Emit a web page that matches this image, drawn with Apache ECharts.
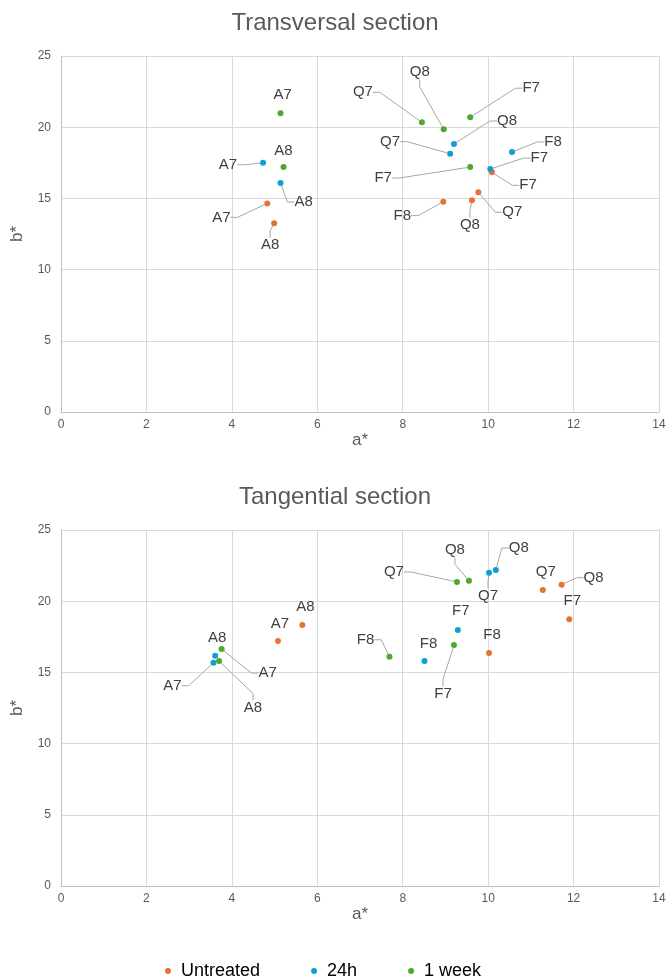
<!DOCTYPE html>
<html><head><meta charset="utf-8">
<script src="https://cdn.jsdelivr.net/npm/echarts@6/dist/echarts.min.js"></script>
<style>html,body{margin:0;padding:0;background:#fff}#c{width:670px;height:980px}</style>
</head><body><div id="c"></div>
<script>
// ---------- data ----------
const seriesNames = ['Untreated', '24h', '1 week'];
const xTicks = [0, 2, 4, 6, 8, 10, 12, 14];
const yTicks = [0, 5, 10, 15, 20, 25];

// Transversal section
const trUntreatedLbl = ['A7', 'A8', 'Q7', 'Q8', 'F7', 'F8'];
const trUntreatedA   = [4.83, 4.99, 9.77, 9.62, 10.09, 8.95];
const trUntreatedB   = [14.65, 13.25, 15.43, 14.87, 16.83, 14.77];

const tr24hLbl = ['A7', 'A8', 'Q7', 'Q8', 'F7', 'F8'];
const tr24hA   = [4.73, 5.14, 9.11, 9.20, 10.05, 10.56];
const tr24hB   = [17.50, 16.08, 18.14, 18.82, 17.06, 18.26];

const tr1wLbl = ['A7', 'A8', 'Q7', 'Q8', 'F7', 'F7'];
const tr1wA   = [5.14, 5.21, 8.45, 8.96, 9.58, 9.58];
const tr1wB   = [20.98, 17.20, 20.34, 19.85, 20.70, 17.20];

// Tangential section
const tgUntreatedLbl = ['A7', 'A8', 'Q7', 'Q8', 'F7', 'F8'];
const tgUntreatedA   = [5.08, 5.65, 11.28, 11.72, 11.90, 10.02];
const tgUntreatedB   = [17.20, 18.33, 20.79, 21.16, 18.73, 16.36];

const tg24hLbl = ['A7', 'A8', 'Q7', 'Q8', 'F7', 'F8'];
const tg24hA   = [3.57, 3.61, 10.02, 10.18, 9.29, 8.51];
const tg24hB   = [15.68, 16.17, 22.00, 22.19, 17.98, 15.80];

const tg1wLbl = ['A7', 'A8', 'Q7', 'Q8', 'F7', 'F8'];
const tg1wA   = [3.76, 3.70, 9.27, 9.55, 9.20, 7.69];
const tg1wB   = [16.64, 15.80, 21.35, 21.44, 16.92, 16.10];

// ---------- label placement (styling) ----------
// [dx, dy, showLeaderLine]
const trUntreatedOff = [[-46,14,1],[-4,22,1],[34,20,1],[-2,25,1],[36,13,1],[-41,14,1]];
const tr24hOff       = [[-35,2,1],[23,19,1],[-60,-12,1],[53,-23,1],[49,-11,1],[41,-10,1]];
const tr1wOff        = [[2,-18,0],[0,-16,0],[-59,-30,1],[-24,-57,1],[61,-29,1],[-87,11,1]];
const tgUntreatedOff = [[2,-17,0],[3,-18,0],[3,-18,0],[32,-7,1],[3,-18,0],[3,-18,0]];
const tg24hOff       = [[-41,23,1],[2,-18,0],[-1,23,1],[23,-22,1],[3,-19,0],[4,-17,0]];
const tg1wOff        = [[46,24,1],[34,47,1],[-63,-10,1],[-14,-31,1],[-11,49,1],[-24,-17,1]];

const colors = ['#E97132', '#0F9ED5', '#4EA72E'];
const textColor = '#595959';
const font = 'Liberation Sans, Arial, sans-serif';

const seriesDefs = [
  {grid: 0, lbl: trUntreatedLbl, a: trUntreatedA, b: trUntreatedB, off: trUntreatedOff, s: 0},
  {grid: 0, lbl: tr24hLbl, a: tr24hA, b: tr24hB, off: tr24hOff, s: 1},
  {grid: 0, lbl: tr1wLbl, a: tr1wA, b: tr1wB, off: tr1wOff, s: 2},
  {grid: 1, lbl: tgUntreatedLbl, a: tgUntreatedA, b: tgUntreatedB, off: tgUntreatedOff, s: 0},
  {grid: 1, lbl: tg24hLbl, a: tg24hA, b: tg24hB, off: tg24hOff, s: 1},
  {grid: 1, lbl: tg1wLbl, a: tg1wA, b: tg1wB, off: tg1wOff, s: 2}
];

function makeAxisX(gi) {
  return {
    type: 'value', gridIndex: gi, min: xTicks[0], max: xTicks[xTicks.length - 1], interval: 2,
    name: 'a*', nameLocation: 'middle', nameGap: 19,
    nameTextStyle: {color: textColor, fontSize: 17, fontFamily: font},
    axisLine: {show: true, lineStyle: {color: '#bfbfbf'}},
    axisTick: {show: false},
    axisLabel: {color: textColor, fontSize: 12, fontFamily: font, margin: 7},
    splitLine: {show: true, lineStyle: {color: '#d9d9d9'}}
  };
}
function makeAxisY(gi) {
  return {
    type: 'value', gridIndex: gi, min: yTicks[0], max: yTicks[yTicks.length - 1], interval: 5,
    name: 'b*', nameLocation: 'middle', nameGap: 35,
    nameTextStyle: {color: textColor, fontSize: 17, fontFamily: font},
    axisLine: {show: true, lineStyle: {color: '#bfbfbf'}},
    axisTick: {show: false},
    axisLabel: {color: textColor, fontSize: 12, fontFamily: font, margin: 10},
    splitLine: {show: true, lineStyle: {color: '#d9d9d9'}}
  };
}

const series = seriesDefs.map(function (d) {
  return {
    name: seriesNames[d.s],
    type: 'scatter',
    xAxisIndex: d.grid, yAxisIndex: d.grid,
    symbol: 'circle', symbolSize: 6,
    itemStyle: {color: colors[d.s], opacity: 1},
    label: {
      show: true, position: 'inside', color: '#404040', fontSize: 15, fontFamily: font,
      formatter: function (p) { return p.name; }
    },
    labelLine: {show: true, length2: 7, lineStyle: {color: '#a6a6a6', width: 1}},
    labelLayout: function (p) {
      const o = d.off[p.dataIndex];
      return {dx: o[0], dy: o[1], hideOverlap: false};
    },
    emphasis: {disabled: true},
    data: d.a.map(function (v, i) {
      return {
        name: d.lbl[i],
        value: [v, d.b[i]],
        labelLine: {show: !!d.off[i][2]}
      };
    })
  };
});

const chart = echarts.init(document.getElementById('c'), null, {renderer: 'canvas'});
chart.setOption({
  animation: false,
  color: colors,
  title: [
    {text: 'Transversal section', left: 'center', top: 6,
     textStyle: {color: textColor, fontSize: 24, fontWeight: 'normal', fontFamily: font}},
    {text: 'Tangential section', left: 'center', top: 480,
     textStyle: {color: textColor, fontSize: 24, fontWeight: 'normal', fontFamily: font}}
  ],
  legend: {
    data: seriesNames, top: 957, left: 160, itemGap: 51,
    icon: 'circle', itemWidth: 6, itemHeight: 6,
    textStyle: {color: '#000', fontSize: 18, fontFamily: font, padding: [0, 0, 0, 5]},
    selectedMode: false
  },
  grid: [
    {left: 61, right: 11, top: 56, height: 356, outerBoundsMode: 'none', containLabel: false},
    {left: 61, right: 11, top: 530, height: 356, outerBoundsMode: 'none', containLabel: false}
  ],
  xAxis: [makeAxisX(0), makeAxisX(1)],
  yAxis: [makeAxisY(0), makeAxisY(1)],
  series: series
});
</script></body></html>
